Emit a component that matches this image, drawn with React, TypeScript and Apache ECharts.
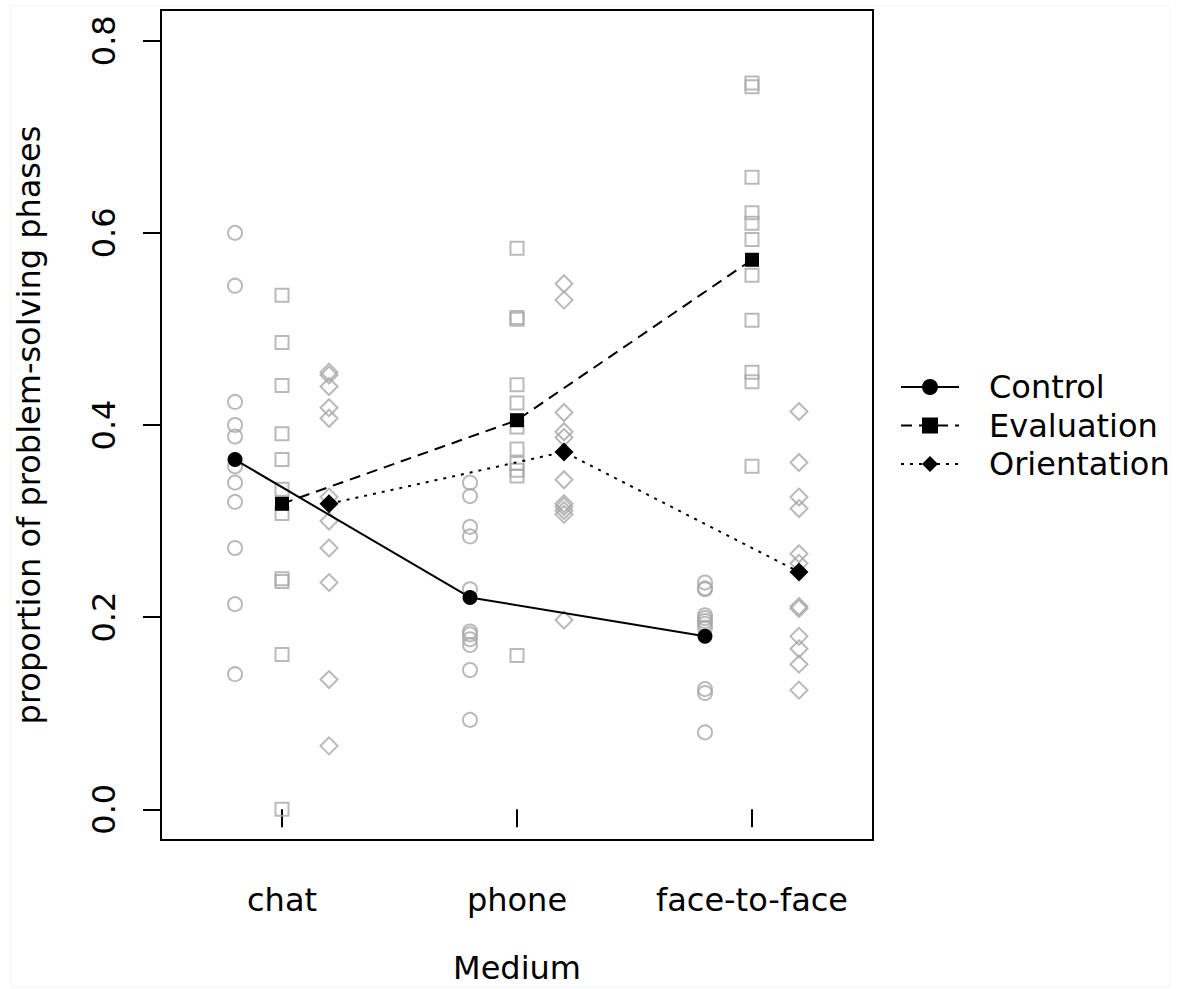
import React, { useEffect, useRef } from "react";
import * as echarts from "echarts";

const media = ["chat", "phone", "face-to-face"];
const groups = ["Control", "Evaluation", "Orientation"];
const groupOffsets = [-0.2, 0, 0.2];
const yTicks = [0, 0.2, 0.4, 0.6, 0.8];

// raw proportions per subject (chat, phone, face-to-face)
const controlChat = [0.600, 0.545, 0.424, 0.400, 0.388, 0.357, 0.340, 0.320, 0.272, 0.2135, 0.1406];
const controlPhone = [0.340, 0.326, 0.294, 0.284, 0.229, 0.185, 0.182, 0.177, 0.171, 0.145, 0.093];
const controlF2F = [0.236, 0.230, 0.229, 0.202, 0.199, 0.196, 0.193, 0.189, 0.125, 0.121, 0.080];

const evaluationChat = [0.535, 0.486, 0.441, 0.391, 0.364, 0.333, 0.308, 0.240, 0.237, 0.161, 0.0];
const evaluationPhone = [0.584, 0.512, 0.510, 0.442, 0.423, 0.398, 0.375, 0.360, 0.353, 0.347, 0.160];
const evaluationF2F = [0.756, 0.752, 0.658, 0.621, 0.610, 0.593, 0.556, 0.509, 0.455, 0.445, 0.357];

const orientationChat = [0.455, 0.452, 0.440, 0.418, 0.407, 0.325, 0.300, 0.272, 0.236, 0.135, 0.066];
const orientationPhone = [0.547, 0.530, 0.413, 0.393, 0.387, 0.343, 0.318, 0.315, 0.311, 0.307, 0.197];
const orientationF2F = [0.414, 0.361, 0.325, 0.313, 0.266, 0.256, 0.211, 0.209, 0.180, 0.167, 0.151, 0.124];

// group means
const controlMeans = [0.364, 0.2205, 0.180];
const evaluationMeans = [0.318, 0.405, 0.572];
const orientationMeans = [0.318, 0.372, 0.247];

const rawByGroup = [
  [controlChat, controlPhone, controlF2F],
  [evaluationChat, evaluationPhone, evaluationF2F],
  [orientationChat, orientationPhone, orientationF2F],
];
const meansByGroup = [controlMeans, evaluationMeans, orientationMeans];

const FONT = "DejaVu Sans";
const FS = 32;
const GRAY = "#a8a8a8";
const symbols = ["circle", "rect", "diamond"];
const rawSizes = [14, 13, 17];
const meanSizes = [15, 14, 19];
const lineTypes: any[] = ["solid", [11, 7], [3, 6]];

export default function App() {
  const ref = useRef<HTMLDivElement>(null);
  useEffect(() => {
    if (!ref.current) return;
    const chart = echarts.init(ref.current, undefined, { renderer: "svg" });

    const series: any[] = [];
    groups.forEach((g, gi) => {
      const data: number[][] = [];
      rawByGroup[gi].forEach((vals, mi) => {
        vals.forEach((v) => data.push([mi + 1 + groupOffsets[gi], v]));
      });
      series.push({
        name: g + " subjects",
        type: "scatter",
        data,
        symbol: symbols[gi],
        symbolSize: rawSizes[gi],
        itemStyle: { color: "rgba(0,0,0,0)", borderColor: GRAY, borderWidth: 2 },
        emphasis: { disabled: true },
        z: 2,
      });
    });
    groups.forEach((g, gi) => {
      series.push({
        name: g,
        type: "line",
        data: meansByGroup[gi].map((v, mi) => [mi + 1 + groupOffsets[gi], v]),
        symbol: symbols[gi],
        symbolSize: meanSizes[gi],
        showAllSymbol: true,
        itemStyle: { color: "#000" },
        lineStyle: { color: "#000", width: 2, type: lineTypes[gi] },
        emphasis: { disabled: true },
        z: 5,
      });
    });

    chart.setOption({
      animation: false,
      grid: {
        left: 161,
        top: 10,
        width: 712,
        height: 830,
        show: true,
        borderColor: "#000",
        borderWidth: 2,
        backgroundColor: "transparent",
        containLabel: false,
        outerBoundsMode: "none",
      },
      legend: {
        data: groups,
        orient: "vertical",
        left: 900,
        top: 371,
        padding: 0,
        itemWidth: 58,
        itemHeight: 20,
        itemGap: 6.5,
        selectedMode: false,
        textStyle: { fontFamily: FONT, fontSize: FS, color: "#000", padding: [0, 0, 0, 25] },
      },
      xAxis: {
        type: "value",
        min: 0.485,
        max: 3.515,
        splitLine: { show: false },
        axisLine: { show: false },
        axisTick: {
          show: true,
          length: 18,
          customValues: [1, 2, 3],
          lineStyle: { color: "#000", width: 2 },
        },
        axisLabel: {
          customValues: [1, 2, 3],
          formatter: (v: number) => media[Math.round(v) - 1] ?? "",
          fontFamily: FONT,
          fontSize: FS,
          color: "#000",
          margin: 44,
        },
        name: "Medium",
        nameLocation: "middle",
        nameGap: 112,
        nameTextStyle: { fontFamily: FONT, fontSize: FS, color: "#000" },
      },
      yAxis: {
        type: "value",
        min: -0.032,
        max: 0.832,
        splitLine: { show: false },
        axisLine: { show: false },
        axisTick: {
          show: true,
          length: 18,
          customValues: yTicks,
          lineStyle: { color: "#000", width: 2 },
        },
        axisLabel: {
          customValues: yTicks,
          formatter: (v: number) => v.toFixed(1),
          rotate: 90,
          fontFamily: FONT,
          fontSize: FS,
          color: "#000",
          margin: 41,
        },
        name: "proportion of problem-solving phases",
        nameLocation: "middle",
        nameGap: 116,
        nameTextStyle: { fontFamily: FONT, fontSize: FS, color: "#000" },
      },
      graphic: [
        {
          type: "rect",
          shape: { x: 11, y: 6, width: 1159, height: 981 },
          style: { fill: "none", stroke: "#f3f3f3", lineWidth: 1 },
          silent: true,
          z: -1,
        },
      ],
      series,
    });
    return () => chart.dispose();
  }, []);
  return (
    <div
      ref={ref}
      style={{ position: "fixed", left: 0, top: 0, width: 1188, height: 989, background: "#fff" }}
    />
  );
}
